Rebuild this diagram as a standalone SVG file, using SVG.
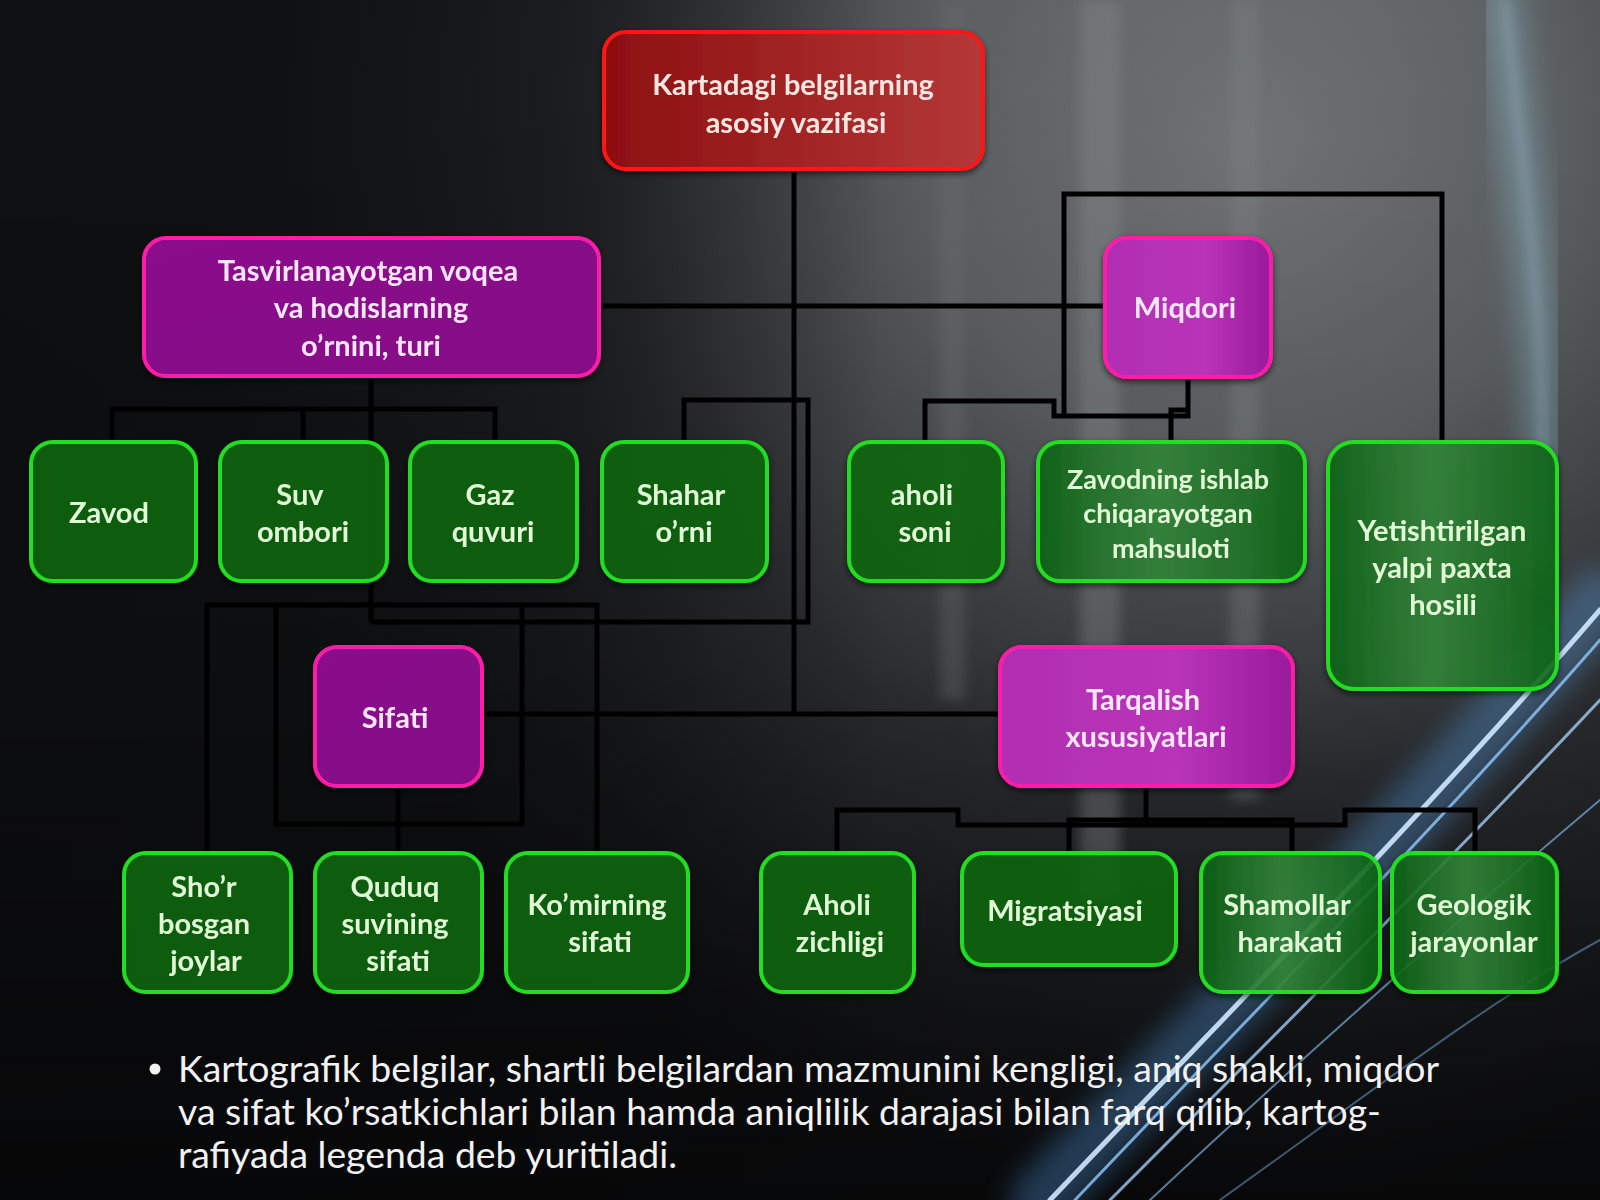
<svg xmlns="http://www.w3.org/2000/svg" width="1600" height="1200" viewBox="0 0 1600 1200">
<defs>
  <radialGradient id="bgGlow" cx="1250" cy="150" r="1050" gradientUnits="userSpaceOnUse">
    <stop offset="0" stop-color="#717577"/>
    <stop offset="0.3" stop-color="#5c6062"/>
    <stop offset="0.62" stop-color="#2e3033"/>
    <stop offset="1" stop-color="#111214"/>
  </radialGradient>
  <linearGradient id="bgDark" x1="0" y1="0" x2="0" y2="1">
    <stop offset="0" stop-color="#000" stop-opacity="0"/>
    <stop offset="0.55" stop-color="#000" stop-opacity="0.1"/>
    <stop offset="1" stop-color="#000" stop-opacity="0.55"/>
  </linearGradient>
  <linearGradient id="bgLeft" x1="0" y1="0" x2="1" y2="0">
    <stop offset="0" stop-color="#0e0f11" stop-opacity="0.9"/>
    <stop offset="0.35" stop-color="#0e0f11" stop-opacity="0.55"/>
    <stop offset="0.55" stop-color="#0e0f11" stop-opacity="0"/>
  </linearGradient>
  <linearGradient id="gRoot" x1="0" y1="0" x2="1" y2="0">
    <stop offset="0" stop-color="#8c0f10"/>
    <stop offset="1" stop-color="#b53838"/>
  </linearGradient>
  <linearGradient id="gPurD" x1="0" y1="0" x2="1" y2="1">
    <stop offset="0" stop-color="#8a0c8c"/>
    <stop offset="1" stop-color="#860a86"/>
  </linearGradient>
  <linearGradient id="gPurL" x1="0" y1="0" x2="1" y2="0">
    <stop offset="0" stop-color="#b12db2"/>
    <stop offset="0.6" stop-color="#b834b8"/>
    <stop offset="1" stop-color="#9a1a9c"/>
  </linearGradient>
  <linearGradient id="gGloss" x1="0" y1="0" x2="1" y2="0">
    <stop offset="0" stop-color="#ffffff" stop-opacity="0"/>
    <stop offset="0.45" stop-color="#c8ffc8" stop-opacity="0.18"/>
    <stop offset="1" stop-color="#ffffff" stop-opacity="0"/>
  </linearGradient>
  <filter id="blur6" x="-20%" y="-20%" width="140%" height="140%"><feGaussianBlur stdDeviation="6"/></filter>
  <filter id="blur14" x="-30%" y="-30%" width="160%" height="160%"><feGaussianBlur stdDeviation="14"/></filter>
  <filter id="glow" x="-10%" y="-10%" width="120%" height="120%">
    <feGaussianBlur in="SourceAlpha" stdDeviation="3" result="b"/>
    <feOffset dx="0" dy="3" result="o"/>
    <feFlood flood-color="#000" flood-opacity="0.6"/>
    <feComposite in2="o" operator="in"/>
    <feMerge><feMergeNode/><feMergeNode in="SourceGraphic"/></feMerge>
  </filter>
</defs>
<style>
  .conn { fill: none; stroke: #000; stroke-width: 5; stroke-linejoin: miter; }
  .root { fill: url(#gRoot); stroke: #ff1414; stroke-width: 4; }
  .purD { fill: url(#gPurD); stroke: #ff1fa8; stroke-width: 4; }
  .purL { fill: url(#gPurL); stroke: #ff1fa8; stroke-width: 4; }
  .grn { fill: #0b6a14; fill-opacity: 0.8; stroke: #22dd22; stroke-width: 4; }
  .gloss { fill: url(#gGloss); stroke: none; }
  .t { font-family: Lato, "Open Sans", "Liberation Sans", sans-serif; font-weight: bold; font-size: 29px; text-anchor: middle; }
  .tr { fill: #f8e6e0; }
  .tp { fill: #ffe6ff; }
  .tg { fill: #e2f9d6; }
  .body { font-family: Lato, "Open Sans", "Liberation Sans", sans-serif; font-size: 37px; fill: #f2f2f2; }
  .streak { fill: none; stroke-linecap: round; }
</style>

<!-- background -->
<rect x="0" y="0" width="1600" height="1200" fill="url(#bgGlow)"/>
<rect x="0" y="0" width="1600" height="1200" fill="url(#bgLeft)"/>
<rect x="0" y="0" width="1600" height="1200" fill="url(#bgDark)"/>
<g opacity="0.35" filter="url(#blur6)">
  <rect x="1080" y="0" width="40" height="900" fill="#8a8f91"/>
  <rect x="1230" y="0" width="30" height="800" fill="#7d8284"/>
  <rect x="940" y="0" width="25" height="700" fill="#6a6e70"/>
</g>
<g>
  <path class="streak" d="M1040 1200 C1230 1000 1420 820 1600 600" stroke="#5fb0ff" stroke-width="60" opacity="0.3" filter="url(#blur14)"/>
  <path class="streak" d="M1050 1200 C1240 1000 1420 820 1600 610" stroke="#cfe9ff" stroke-width="5" opacity="0.9"/>
  <path class="streak" d="M1075 1200 C1260 1005 1430 835 1600 640" stroke="#8fc8ff" stroke-width="3" opacity="0.8"/>
  <path class="streak" d="M1110 1200 C1290 1020 1450 860 1600 700" stroke="#a9d5ff" stroke-width="3" opacity="0.75"/>
  <path class="streak" d="M1150 1200 C1310 1050 1470 910 1600 800" stroke="#8cc4ff" stroke-width="2" opacity="0.6"/>
  <path class="streak" d="M1220 1200 C1360 1100 1490 1000 1600 940" stroke="#7ab8f5" stroke-width="2" opacity="0.45"/>
  <path class="streak" d="M1500 0 C1525 200 1555 380 1540 560" stroke="#9fd8f0" stroke-width="40" opacity="0.3" filter="url(#blur14)"/>
  <path class="streak" d="M1505 0 C1528 200 1552 380 1538 540" stroke="#d8f0ff" stroke-width="3" opacity="0.45" filter="url(#blur6)"/>
</g>

<!-- connectors -->
<g id="connectors">
  <path class="conn" d="M794 169 V714"/>
  <path class="conn" d="M482 714 H1000"/>
  <path class="conn" d="M599 306 H1105"/>
  <path class="conn" d="M371 376 V622"/>
  <path class="conn" d="M112 442 V409 H495 V442 M303 409 V442"/>
  <path class="conn" d="M684 442 V400 H808 V622 H371"/>
  <path class="conn" d="M207 853 V605 H597 V853"/>
  <path class="conn" d="M276 605 V824 H522 V605"/>
  <path class="conn" d="M398 786 V853"/>
  <path class="conn" d="M1188 377 V416 H1054 V401 H925 V442"/>
  <path class="conn" d="M1188 410 H1171 V442"/>
  <path class="conn" d="M1064 416 V194 H1442 V442"/>
  <path class="conn" d="M1146 786 V823"/>
  <path class="conn" d="M837 853 V810 H958 V825 H1345 V810 H1475 V853"/>
  <path class="conn" d="M1069 853 V820 H1292 V853"/>
</g>

<!-- nodes -->
<g id="root" filter="url(#glow)">
  <rect class="root" x="604" y="32" width="379" height="137" rx="22"/>
  <text class="t tr" x="793" y="95">Kartadagi belgilarning</text>
  <text class="t tr" x="796" y="133">asosiy vazifasi</text>
</g>
<g id="tasvir" filter="url(#glow)">
  <rect class="purD" x="144" y="238" width="455" height="138" rx="22"/>
  <text class="t tp" x="368" y="281">Tasvirlanayotgan voqea</text>
  <text class="t tp" x="371" y="318">va hodislarning</text>
  <text class="t tp" x="371" y="356">o’rnini, turi</text>
</g>
<g id="miqdori" filter="url(#glow)">
  <rect class="purL" x="1105" y="238" width="166" height="139" rx="22"/>
  <text class="t tp" x="1185" y="318">Miqdori</text>
</g>
<g id="zavod" filter="url(#glow)">
  <rect class="grn" x="31" y="442" width="165" height="139" rx="22"/>
  <text class="t tg" x="109" y="523">Zavod</text>
</g>
<g id="suv" filter="url(#glow)">
  <rect class="grn" x="220" y="442" width="167" height="139" rx="22"/>
  <text class="t tg" x="300" y="505">Suv</text>
  <text class="t tg" x="303" y="542">ombori</text>
</g>
<g id="gaz" filter="url(#glow)">
  <rect class="grn" x="410" y="442" width="167" height="139" rx="22"/>
  <text class="t tg" x="490" y="505">Gaz</text>
  <text class="t tg" x="493" y="542">quvuri</text>
</g>
<g id="shahar" filter="url(#glow)">
  <rect class="grn" x="602" y="442" width="165" height="139" rx="22"/>
  <text class="t tg" x="681" y="505">Shahar</text>
  <text class="t tg" x="684" y="542">o’rni</text>
</g>
<g id="aholi-soni" filter="url(#glow)">
  <rect class="grn" x="849" y="442" width="154" height="139" rx="22"/>
  <text class="t tg" x="922" y="505">aholi</text>
  <text class="t tg" x="925" y="542">soni</text>
</g>
<g id="zavodning" filter="url(#glow)">
  <rect class="grn" x="1038" y="442" width="267" height="139" rx="22"/>
  <rect class="gloss" x="1040" y="444" width="263" height="135" rx="20"/>
  <text class="t tg" x="1168" y="489" style="font-size:27px">Zavodning ishlab</text>
  <text class="t tg" x="1168" y="523" style="font-size:27px">chiqarayotgan</text>
  <text class="t tg" x="1171" y="558" style="font-size:27px">mahsuloti</text>
</g>
<g id="yetishtirilgan" filter="url(#glow)">
  <rect class="grn" x="1328" y="442" width="229" height="247" rx="26"/>
  <rect class="gloss" x="1330" y="444" width="225" height="243" rx="24"/>
  <text class="t tg" x="1442" y="541">Yetishtirilgan</text>
  <text class="t tg" x="1442" y="578">yalpi paxta</text>
  <text class="t tg" x="1443" y="615">hosili</text>
</g>
<g id="sifati" filter="url(#glow)">
  <rect class="purD" x="315" y="647" width="167" height="139" rx="22"/>
  <text class="t tp" x="395" y="728">Sifati</text>
</g>
<g id="tarqalish" filter="url(#glow)">
  <rect class="purL" x="1000" y="647" width="293" height="139" rx="22"/>
  <text class="t tp" x="1143" y="710">Tarqalish</text>
  <text class="t tp" x="1146" y="747">xususiyatlari</text>
</g>
<g id="shor" filter="url(#glow)">
  <rect class="grn" x="124" y="853" width="167" height="139" rx="22"/>
  <text class="t tg" x="204" y="897">Sho’r</text>
  <text class="t tg" x="204" y="934">bosgan</text>
  <text class="t tg" x="206" y="971">joylar</text>
</g>
<g id="quduq" filter="url(#glow)">
  <rect class="grn" x="315" y="853" width="167" height="139" rx="22"/>
  <text class="t tg" x="395" y="897">Quduq</text>
  <text class="t tg" x="395" y="934">suvining</text>
  <text class="t tg" x="398" y="971">sifati</text>
</g>
<g id="komir" filter="url(#glow)">
  <rect class="grn" x="506" y="853" width="182" height="139" rx="22"/>
  <text class="t tg" x="597" y="915">Ko’mirning</text>
  <text class="t tg" x="600" y="952">sifati</text>
</g>
<g id="zichligi" filter="url(#glow)">
  <rect class="grn" x="761" y="853" width="153" height="139" rx="22"/>
  <text class="t tg" x="837" y="915">Aholi</text>
  <text class="t tg" x="840" y="952">zichligi</text>
</g>
<g id="migratsiyasi" filter="url(#glow)">
  <rect class="grn" x="962" y="853" width="214" height="112" rx="22"/>
  <text class="t tg" x="1065" y="921">Migratsiyasi</text>
</g>
<g id="shamollar" filter="url(#glow)">
  <rect class="grn" x="1201" y="853" width="179" height="139" rx="22"/>
  <rect class="gloss" x="1203" y="855" width="175" height="135" rx="20"/>
  <text class="t tg" x="1287" y="915">Shamollar</text>
  <text class="t tg" x="1290" y="952">harakati</text>
</g>
<g id="geologik" filter="url(#glow)">
  <rect class="grn" x="1392" y="853" width="165" height="139" rx="22"/>
  <rect class="gloss" x="1394" y="855" width="161" height="135" rx="20"/>
  <text class="t tg" x="1474" y="915">Geologik</text>
  <text class="t tg" x="1474" y="952">jarayonlar</text>
</g>

<!-- bullet text -->
<g id="caption">
  <circle cx="155" cy="1069" r="5.5" fill="#f2f2f2"/>
  <text class="body" x="178" y="1082" textLength="1261" lengthAdjust="spacingAndGlyphs">Kartografik belgilar, shartli belgilardan mazmunini kengligi, aniq shakli, miqdor</text>
  <text class="body" x="178" y="1125" textLength="1203" lengthAdjust="spacingAndGlyphs">va sifat ko’rsatkichlari bilan hamda aniqlilik darajasi bilan farq qilib, kartog-</text>
  <text class="body" x="178" y="1168" textLength="499" lengthAdjust="spacingAndGlyphs">rafiyada legenda deb yuritiladi.</text>
</g>
</svg>
